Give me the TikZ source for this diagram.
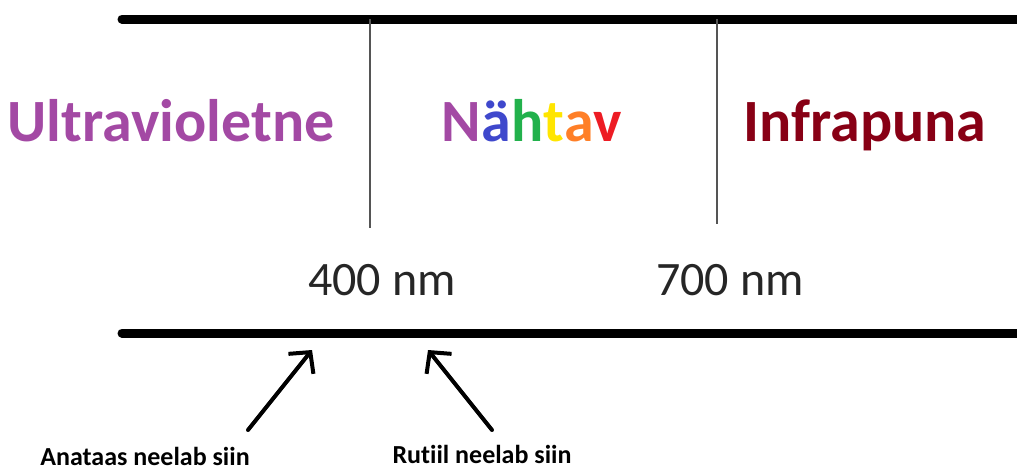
\documentclass[tikz,border=0pt]{standalone}
\usepackage{fontspec}
\setmainfont[Ligatures={NoCommon}]{Carlito}
\usetikzlibrary{arrows.meta}
\definecolor{uvpurple}{HTML}{A349A4}
\definecolor{irred}{HTML}{880015}
\definecolor{cblue}{HTML}{3F48CC}
\definecolor{cgreen}{HTML}{22B14C}
\definecolor{cyellow}{HTML}{FFE500}
\definecolor{corange}{HTML}{FF7F27}
\definecolor{cred}{HTML}{ED1C24}
\definecolor{tickgray}{HTML}{555555}
\begin{document}
\begin{tikzpicture}[x=1pt,y=-1pt,
  axis/.style={line width=9pt,line cap=round},
  divider/.style={line width=2pt,draw=tickgray},
  region/.style={font=\fontsize{60}{64}\selectfont\bfseries,anchor=center},
  wave/.style={font=\fontsize{48}{52}\selectfont,text=black!85,anchor=center},
  note/.style={font=\fontsize{26}{30}\selectfont\bfseries,anchor=center},
  pointer/.style={line width=4pt,line cap=round,-{Straight Barb[length=15pt,width=32pt,line width=4pt]}}]
\useasboundingbox (0,0) rectangle (1017,472);
% spectrum axes
\coordinate (topL) at (122,19);
\coordinate (topR) at (1025,19);
\coordinate (botL) at (122,333);
\coordinate (botR) at (1025,333);
\draw[axis] (topL) -- (topR);
\draw[axis] (botL) -- (botR);
% band boundaries
\coordinate (d1t) at (370,19);
\coordinate (d1b) at (370,228);
\coordinate (d2t) at (717,19);
\coordinate (d2b) at (717,224);
\draw[divider] (d1t) -- (d1b);
\draw[divider] (d2t) -- (d2b);
% band names
\node[region,text=uvpurple] (uv) at (171,121) {Ultravioletne};
\node[region] (vis) at (532,121) {\textcolor{uvpurple}{N}\textcolor{cblue}{ä}\textcolor{cgreen}{h}\textcolor{cyellow}{t}\textcolor{corange}{a}\textcolor{cred}{v}};
\node[region,text=irred] (ir) at (865,125) {Infrapuna};
% wavelength marks
\node[wave] (w400) at (382,280) {400 nm};
\node[wave] (w700) at (730,280) {700 nm};
% absorption labels
\node[note] (anat) at (145,456) {Anataas neelab siin};
\node[note] (rut) at (482,454) {Rutiil neelab siin};
\coordinate (anatS) at (248,430);
\coordinate (anatE) at (312,350);
\coordinate (rutS) at (492,430);
\coordinate (rutE) at (428,350);
\draw[pointer] (anatS) -- (anatE);
\draw[pointer] (rutS) -- (rutE);
\end{tikzpicture}
\end{document}
